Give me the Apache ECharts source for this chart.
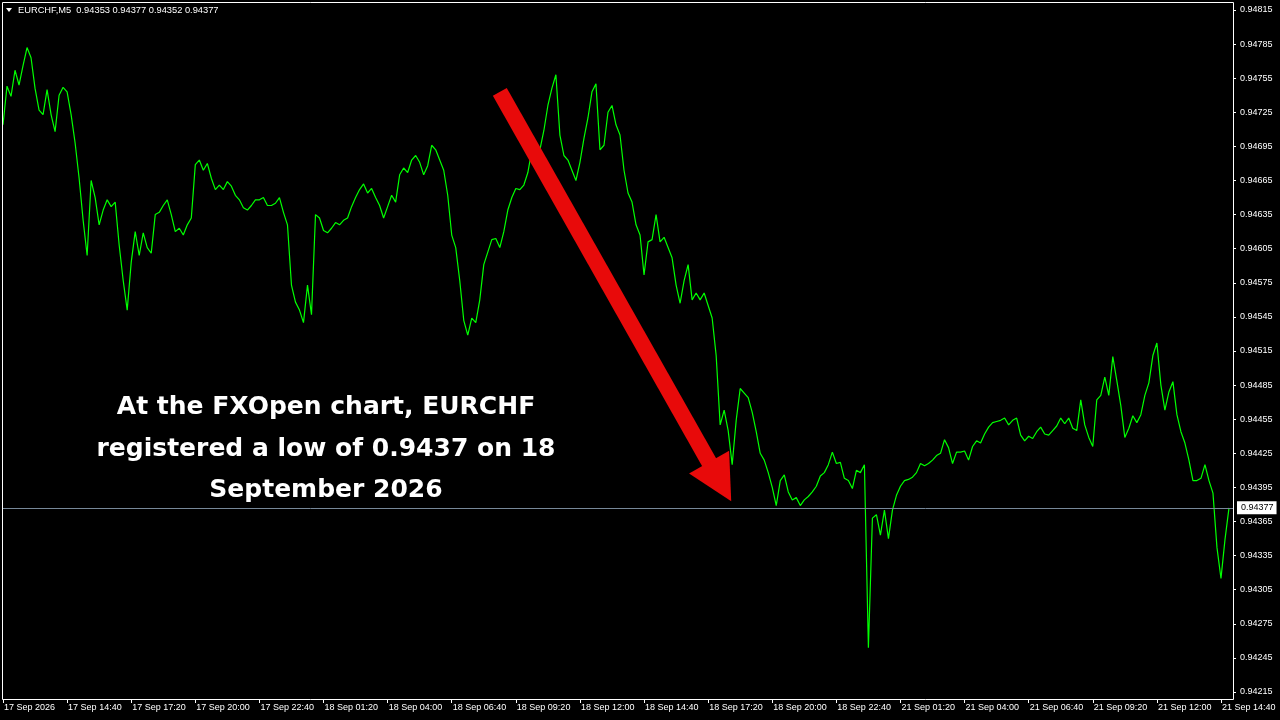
<!DOCTYPE html>
<html>
<head>
<meta charset="utf-8">
<script src="https://cdn.jsdelivr.net/npm/echarts/dist/echarts.min.js"></script>
<style>
html,body{margin:0;padding:0;background:#000;}
#chart{width:1280px;height:720px;}
</style>
</head>
<body>
<div id="chart"></div>
<script>
// ---- DATA (10-minute closes, price x 100000) ----
const symbolName = 'EURCHF';
const timeframe = 'M5';
const headerOHLC = ['0.94353', '0.94377', '0.94352', '0.94377'];
const lastClose = 94377;

const sessionDays = ['17 Sep', '18 Sep', '21 Sep'];
const sessionStartMinutes = [720, 0, 0];
const stepMinutes = 10;

const sep17 = [94714,94748,94739,94762,94749,94766,94782,94773,94746,94727,
  94723,94745,94723,94708,94740,94747,94743,94723,94698,94667,
  94630,94599,94665,94650,94626,94639,94648,94642,94646,94608,
  94577,94551,94593,94620,94599,94619,94606,94601,94635,94637,
  94643,94648,94635,94620,94623,94617,94626,94632,94679,94683,
  94674,94680,94667,94657,94661,94657,94664,94660,94652,94648,
  94641,94639,94643,94648,94648,94650,94643,94643,94645,94650,
  94637,94626];

const sep18 = [94573,94558,94551,94540,94573,94547,94635,94632,94621,94619,
  94623,94628,94626,94630,94632,94642,94650,94657,94662,94654,
  94658,94650,94643,94632,94642,94652,94646,94670,94676,94672,
  94683,94687,94681,94670,94678,94696,94692,94683,94674,94652,
  94617,94606,94577,94542,94529,94544,94540,94560,94591,94602,
  94613,94614,94606,94620,94639,94650,94658,94657,94661,94672,
  94692,94679,94692,94709,94731,94746,94758,94705,94687,94683,
  94674,94665,94681,94702,94720,94743,94750,94692,94696,94725,
  94731,94714,94705,94674,94654,94646,94626,94617,94582,94611,
  94613,94635,94611,94615,94606,94597,94573,94557,94577,94591,
  94560,94566,94560,94566,94555,94544,94511,94450,94463,94445,
  94415,94454,94482,94478,94474,94461,94444,94425,94419,94408,
  94395,94379,94401,94406,94391,94384,94386,94379,94384,94387,
  94391,94396,94405,94408,94415,94426,94416,94417,94403,94401,
  94394,94410,94408,94415];

const sep21 = [94254,94368,94371,94353,94375,94350,94375,94388,94396,94401,
  94402,94404,94408,94416,94414,94416,94419,94423,94425,94437,
  94430,94416,94426,94426,94427,94419,94431,94436,94434,94442,
  94448,94452,94453,94454,94456,94450,94454,94456,94441,94436,
  94440,94438,94444,94448,94442,94441,94445,94449,94456,94451,
  94456,94447,94445,94472,94450,94439,94431,94472,94476,94492,
  94476,94510,94489,94467,94439,94447,94458,94452,94459,94476,
  94487,94511,94522,94485,94463,94479,94488,94459,94444,94434,
  94419,94401,94401,94403,94415,94401,94390,94342,94315,94349,
  94377];

const xTickLabels = ['17 Sep 2026','17 Sep 14:40','17 Sep 17:20','17 Sep 20:00','17 Sep 22:40',
  '18 Sep 01:20','18 Sep 04:00','18 Sep 06:40','18 Sep 09:20','18 Sep 12:00',
  '18 Sep 14:40','18 Sep 17:20','18 Sep 20:00','18 Sep 22:40','21 Sep 01:20',
  '21 Sep 04:00','21 Sep 06:40','21 Sep 09:20','21 Sep 12:00','21 Sep 14:40'];
const xLabelEvery = 16;

const yMin = 94215, yMax = 94815, yStep = 30;

const annotationLines = ['At the FXOpen chart, EURCHF', 'registered a low of 0.9437 on 18', 'September 2026'];
const arrowFrom = ['18 Sep 08:40', 94743];
const arrowTo = ['18 Sep 17:50', 94400];

// ---- build categories ----
const sessions = [sep17, sep18, sep21];
const pad = n => (n < 10 ? '0' : '') + n;
const categories = [];
const values = [];
sessions.forEach((arr, s) => {
  arr.forEach((v, j) => {
    const m = sessionStartMinutes[s] + j * stepMinutes;
    categories.push(sessionDays[s] + ' ' + pad(Math.floor(m / 60)) + ':' + pad(m % 60));
    values.push(v);
  });
});
// right shift space (one empty slot like the terminal)
categories.push('21 Sep 15:10');

const fmt = v => (v / 100000).toFixed(5);
const FONT = 'Liberation Sans';

const chart = echarts.init(document.getElementById('chart'), null, {renderer: 'canvas'});
const arrowStyle = {color: '#e80a0a', width: 16, type: 'solid', opacity: 1};

chart.setOption({
  backgroundColor: '#000000',
  animation: false,
  grid: {left: 3, right: 47, top: 10, bottom: 28, containLabel: false},
  xAxis: {
    type: 'category',
    data: categories,
    boundaryGap: false,
    offset: 8,
    axisLine: {show: false},
    axisTick: {show: true, interval: xLabelEvery - 1, length: 3, lineStyle: {color: '#ffffff', width: 1}},
    axisLabel: {
      show: true, interval: xLabelEvery - 1, align: 'left', margin: 3,
      color: '#ffffff', fontFamily: FONT, fontSize: 9, padding: [0, 0, 0, 1],
      formatter: (val, idx) => xTickLabels[Math.round(idx / xLabelEvery)] || ''
    },
    splitLine: {show: false}
  },
  yAxis: {
    type: 'value',
    position: 'right',
    min: yMin, max: yMax, interval: yStep,
    axisLine: {show: false},
    axisTick: {show: true, length: 3, lineStyle: {color: '#ffffff', width: 1}},
    axisLabel: {show: true, margin: 7, color: '#ffffff', fontFamily: FONT, fontSize: 9, formatter: fmt},
    splitLine: {show: false}
  },
  series: [{
    type: 'line',
    data: values,
    showSymbol: false,
    symbol: 'none',
    sampling: null,
    lineStyle: {color: '#00ff00', width: 1.2},
    silent: true,
    markLine: {
      silent: true,
      animation: false,
      symbol: ['none', 'none'],
      data: [
        [
          {coord: arrowFrom, lineStyle: arrowStyle, label: {show: false}},
          {coord: arrowTo, symbol: 'triangle', symbolSize: [46, 45], label: {show: false}}
        ],
        {
          yAxis: lastClose,
          lineStyle: {color: '#778899', width: 1, type: 'solid'},
          label: {
            show: true, position: 'end', distance: 4,
            formatter: fmt(lastClose),
            color: '#000000', backgroundColor: '#ffffff',
            fontFamily: FONT, fontSize: 9, padding: [2, 3, 2, 4]
          }
        }
      ]
    }
  }],
  graphic: [
    {type: 'rect', z: 100, silent: true,
     shape: {x: 2.5, y: 2.5, width: 1231, height: 697},
     style: {fill: 'none', stroke: '#ffffff', lineWidth: 1}},
    {type: 'polygon', z: 100, silent: true,
     shape: {points: [[6, 8], [12, 8], [9, 12]]},
     style: {fill: '#ffffff'}},
    {type: 'text', z: 100, silent: true,
     style: {text: symbolName + ',' + timeframe + '  ' + headerOHLC.join(' '),
             x: 18, y: 10, align: 'left', verticalAlign: 'middle',
             fill: '#ffffff', fontFamily: FONT, fontSize: 9.3}},
    {type: 'text', z: 100, silent: true,
     style: {text: annotationLines.join('\n'), x: 326, y: 387,
             align: 'center', verticalAlign: 'top', lineHeight: 41.5,
             fill: '#ffffff', fontFamily: 'DejaVu Sans', fontWeight: 'bold', fontSize: 25}}
  ]
});
</script>
</body>
</html>
